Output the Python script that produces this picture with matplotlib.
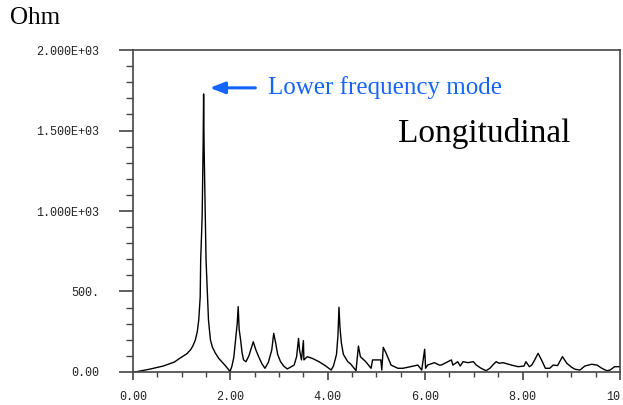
import matplotlib
matplotlib.use("Agg")
import matplotlib.pyplot as plt
from matplotlib.ticker import MultipleLocator, FixedLocator

# impedance spectrum (y in Ohm)
freq = [0.00, 0.04, 0.35, 0.62, 0.85, 0.97, 1.10, 1.18, 1.23, 1.28, 1.32, 1.35,
        1.38, 1.39, 1.42, 1.44, 1.45, 1.46, 1.485, 1.50, 1.53, 1.55, 1.59,
        1.63, 1.69, 1.76, 1.83, 1.90, 1.97, 1.99,
        2.03, 2.07, 2.10, 2.14, 2.16, 2.18, 2.21, 2.24, 2.27, 2.32, 2.38,
        2.44, 2.47, 2.52, 2.58, 2.65, 2.71, 2.78, 2.85, 2.89, 2.93, 2.97,
        3.03, 3.10, 3.17, 3.31, 3.36, 3.40, 3.42, 3.46, 3.50, 3.51, 3.58,
        3.68, 3.82, 3.96, 4.07, 4.12, 4.18, 4.21, 4.23, 4.25, 4.28, 4.32,
        4.41, 4.47, 4.58, 4.63, 4.67, 4.78, 4.89, 4.92, 4.95, 5.09, 5.11,
        5.14, 5.20, 5.30, 5.44, 5.54, 5.64, 5.85, 5.93, 5.99, 6.01, 6.05,
        6.19, 6.29, 6.33, 6.43, 6.54, 6.57, 6.67, 6.72, 6.78, 6.88, 6.99,
        7.05, 7.15, 7.25, 7.33, 7.41, 7.46, 7.52, 7.60, 7.77, 7.91, 8.03,
        8.07, 8.14, 8.19, 8.25, 8.32, 8.39, 8.47, 8.56, 8.63, 8.72, 8.82,
        8.91, 9.01, 9.08, 9.18, 9.28, 9.42, 9.53, 9.63, 9.73, 9.80, 9.89,
        10.0]
ohm = [0, 0, 18, 37, 62, 87, 112, 137, 162, 199, 250, 323,
       466, 696, 963, 1398, 1727, 1398, 963, 696, 466, 323, 199,
       155, 118, 85, 62, 38, 12, 0,
       35, 90, 180, 300, 406, 265, 199, 120, 75, 64, 100,
       160, 188, 140, 95, 50, 23, 60, 137, 240, 180, 110,
       64, 35, 19, 43, 95, 209, 137, 75, 195, 75, 95,
       85, 64, 37, 12, 40, 110, 230, 402, 280, 180, 110,
       64, 50, 8, 161, 95, 64, 23, 75, 75, 75, 12,
       153, 116, 43, 23, 23, 29, 43, 12, 141, 23, 43,
       58, 43, 43, 58, 75, 43, 64, 37, 64, 58, 64,
       43, 23, 8, 23, 50, 64, 54, 58, 43, 33, 37,
       64, 33, 43, 75, 116, 75, 23, 23, 43, 40, 95,
       54, 29, 17, 12, 37, 48, 43, 23, 8, 12, 33,
       33]

x_major = [0, 2, 4, 6, 8, 10]
x_labels = ["0.00", "2.00", "4.00", "6.00", "8.00", "10.0"]
y_major = [0, 500, 1000, 1500, 2000]
y_labels = ["0.00", "500.", "1.000E+03", "1.500E+03", "2.000E+03"]

blue = "#1464ff"
mono = "Liberation Mono"
serif = "Liberation Serif"

fig = plt.figure(figsize=(6.23, 4.05), dpi=100)
ax = fig.add_axes([0.2135, 0.0815, 0.7815, 0.795])
ax.plot(freq, ohm, color="black", lw=1.0)
ax.set_xlim(0, 10); ax.set_ylim(0, 2000)

for s in ax.spines.values():
    s.set_color("#444"); s.set_linewidth(1.2)

ax.xaxis.set_major_locator(FixedLocator(x_major))
ax.xaxis.set_minor_locator(MultipleLocator(0.5))
ax.yaxis.set_major_locator(FixedLocator(y_major))
ax.yaxis.set_minor_locator(MultipleLocator(100))
ax.set_xticklabels(x_labels, family=mono, fontsize=8.5, color="#222")
ax.set_yticklabels(y_labels, family=mono, fontsize=8.5, color="#222")
ax.tick_params(axis="x", which="major", direction="out", length=6, width=1.2, color="#444", pad=8)
ax.tick_params(axis="x", which="minor", direction="out", length=3.5, width=1.0, color="#444")
ax.tick_params(axis="y", which="major", direction="out", length=10, width=1.2, color="#444", pad=14)
ax.tick_params(axis="y", which="minor", direction="out", length=5, width=1.0, color="#444")

fig.text(0.016, 0.955, "Ohm", family=serif, fontsize=18, va="center", ha="left")
ax.text(0.545, 0.74, "Longitudinal", transform=ax.transAxes, family=serif,
        fontsize=24, va="center", ha="left")
ax.annotate("", xy=(1.52, 1765), xytext=(2.57, 1765),
            arrowprops=dict(arrowstyle="-|>,head_length=0.9,head_width=0.35",
                            color=blue, lw=2.2))
ax.text(2.78, 1770, "Lower frequency mode", color=blue, family=serif,
        fontsize=18, va="center", ha="left")

fig.savefig("out.png", dpi=100)
